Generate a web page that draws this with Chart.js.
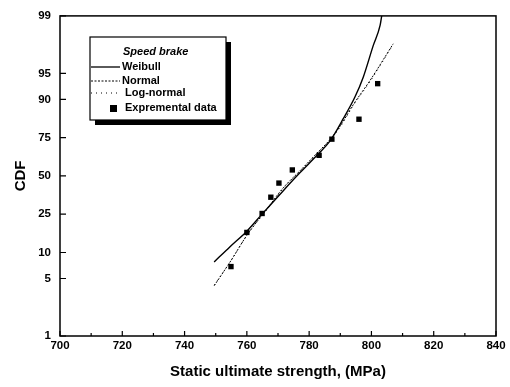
<!DOCTYPE html>
<html><head><meta charset="utf-8">
<script src="https://cdn.jsdelivr.net/npm/chart.js@4.4.0/dist/chart.umd.min.js"></script>
<style>html,body{margin:0;padding:0;background:#fff;}</style>
</head><body>
<canvas id="c" width="510" height="387"></canvas>
<script>
// ---- data ----
const xTicks = [700, 720, 740, 760, 780, 800, 820, 840];
const cdfTicks = [1, 5, 10, 25, 50, 75, 90, 95, 99];

const expStrength = [754.9, 760.0, 764.9, 767.7, 770.3, 774.6, 783.2, 787.3, 796.0, 802.0];
const expCdf      = [6.9, 16.5, 25.4, 35.2, 44.9, 54.3, 64.4, 74.2, 83.6, 93.4];

const weibullStrength = [749.5, 754.6, 760.0, 764.8, 771.7, 777.1, 782.9, 786.7, 791.0, 794.7, 797.4, 800.6, 802.8, 803.3];
const weibullCdf      = [7.8, 11.6, 17.0, 24.9, 39.6, 52.4, 65.2, 73.2, 83.9, 90.6, 94.5, 97.7, 98.7, 99.0];

const normalStrength = [749.5, 755.1, 760.0, 766.4, 771.7, 777.1, 782.4, 786.7, 789.9, 794.2, 799.5, 807.0];
const normalCdf      = [4.1, 8.3, 15.4, 27.8, 41.6, 53.8, 65.6, 74.0, 80.6, 88.6, 93.9, 97.8];

const lognormalStrength = [749.6, 755.2, 760.1, 766.5, 771.8, 777.2, 782.5, 786.8, 790.0, 794.3, 799.6, 806.8];
const lognormalCdf      = [4.2, 8.4, 15.5, 27.7, 41.5, 53.7, 65.4, 73.8, 80.4, 88.5, 93.8, 97.7];

const legendTitle = 'Speed brake';
const seriesNames = ['Weibull', 'Normal', 'Log-normal', 'Expremental data'];

// ---- probability (logit) scale ----
const logit = p => Math.log(p / (100 - p));
class ProbabilityScale extends Chart.Scale {
  determineDataLimits() { this.min = this.options.min; this.max = this.options.max; }
  buildTicks() { return cdfTicks.map(v => ({ value: v })); }
  getLabelForValue(v) { return String(v); }
  configure() {
    super.configure();
    this._lo = logit(this.min);
    this._range = logit(this.max) - this._lo;
  }
  getPixelForValue(v) {
    if (v === null || v === undefined || isNaN(v)) return NaN;
    return this.getPixelForDecimal((logit(v) - this._lo) / this._range);
  }
  getValueForPixel(px) {
    const l = this._lo + this.getDecimalForPixel(px) * this._range;
    return 100 / (1 + Math.exp(-l));
  }
}
ProbabilityScale.id = 'probability';
ProbabilityScale.defaults = {};
Chart.register(ProbabilityScale);

const pts = (xs, ys) => xs.map((x, i) => ({ x: x, y: ys[i] }));

const FONT = 'Liberation Sans, Arial, sans-serif';

const framePlugin = {
  id: 'frame',
  afterDatasetsDraw(chart) {
    const { ctx, chartArea: a, scales: { x, y } } = chart;
    ctx.save();
    ctx.strokeStyle = '#000';
    ctx.lineWidth = 1.5;
    ctx.strokeRect(a.left, a.top, a.right - a.left, a.bottom - a.top);
    ctx.lineWidth = 1.2;
    ctx.beginPath();
    for (let v = xTicks[0]; v <= xTicks[xTicks.length - 1]; v += 10) {
      const px = x.getPixelForValue(v);
      const len = (v % 20 === 0) ? 5 : 3;
      ctx.moveTo(px, a.bottom); ctx.lineTo(px, a.bottom - len);
    }
    cdfTicks.forEach(v => {
      const py = y.getPixelForValue(v);
      ctx.moveTo(a.left, py); ctx.lineTo(a.left + 6, py);
    });
    ctx.stroke();
    ctx.restore();
  },
  afterDraw(chart) {
    const ctx = chart.ctx;
    const bx = 90, by = 37, bw = 136, bh = 83;
    ctx.save();
    ctx.fillStyle = '#000';
    ctx.fillRect(bx + 5, by + 5, bw, bh);
    ctx.fillStyle = '#fff';
    ctx.fillRect(bx, by, bw, bh);
    ctx.strokeStyle = '#000';
    ctx.lineWidth = 1.2;
    ctx.strokeRect(bx, by, bw, bh);
    ctx.fillStyle = '#000';
    ctx.textBaseline = 'middle';
    ctx.textAlign = 'left';
    ctx.font = 'italic bold 11px ' + FONT;
    ctx.fillText(legendTitle, 123, 52);
    ctx.font = 'bold 11px ' + FONT;
    const rows = [
      { y: 67, dash: [], w: 1.3, tx: 122 },
      { y: 81, dash: [2, 1.5], w: 1, tx: 122 },
      { y: 93, dash: [1, 4], w: 1, tx: 125 },
    ];
    rows.forEach((r, i) => {
      ctx.beginPath();
      ctx.setLineDash(r.dash);
      ctx.lineWidth = r.w;
      ctx.moveTo(bx + 1, r.y); ctx.lineTo(120, r.y);
      ctx.stroke();
      ctx.setLineDash([]);
      ctx.fillText(seriesNames[i], r.tx, r.y);
    });
    ctx.fillRect(110, 105, 7, 7);
    ctx.fillText(seriesNames[3], 125, 108);
    ctx.restore();
  }
};

const curve = { pointRadius: 0, cubicInterpolationMode: 'monotone', fill: false, borderColor: '#000' };

new Chart(document.getElementById('c'), {
  type: 'line',
  data: {
    datasets: [
      Object.assign({ label: seriesNames[0], data: pts(weibullStrength, weibullCdf), borderWidth: 1.4 }, curve),
      Object.assign({ label: seriesNames[1], data: pts(normalStrength, normalCdf), borderWidth: 1, borderDash: [2, 1.5] }, curve),
      Object.assign({ label: seriesNames[2], data: pts(lognormalStrength, lognormalCdf), borderWidth: 1, borderDash: [1, 4] }, curve),
      { label: seriesNames[3], data: pts(expStrength, expCdf), showLine: false, pointStyle: 'rect', pointRadius: 3.8, backgroundColor: '#000', borderColor: '#000', borderWidth: 0 }
    ]
  },
  options: {
    responsive: false,
    animation: false,
    devicePixelRatio: 1,
    layout: { padding: { top: 15, right: 14, left: 0, bottom: 0 } },
    plugins: { legend: { display: false }, tooltip: { enabled: false } },
    scales: {
      x: {
        type: 'linear', min: 700, max: 840,
        afterBuildTicks(s) { s.ticks = xTicks.map(v => ({ value: v })); },
        ticks: { autoSkip: false, maxRotation: 0, padding: 3, color: '#000', font: { family: FONT, size: 11.5, weight: 'bold' } },
        grid: { display: false, drawTicks: false },
        border: { display: false },
        title: { display: true, text: 'Static ultimate strength, (MPa)', color: '#000', font: { family: FONT, size: 15, weight: 'bold' }, padding: { top: 0, bottom: 6 } },
        afterFit(s) { s.height = 51; }
      },
      y: {
        type: 'probability', min: 1, max: 99,
        ticks: { autoSkip: false, padding: 9, color: '#000', font: { family: FONT, size: 11.5, weight: 'bold' } },
        grid: { display: false, drawTicks: false },
        border: { display: false },
        title: { display: true, text: 'CDF', color: '#000', font: { family: FONT, size: 15, weight: 'bold' }, padding: { top: 12, bottom: 0 } },
        afterFit(s) { s.width = 60; }
      }
    }
  },
  plugins: [framePlugin]
});
</script>
</body></html>
